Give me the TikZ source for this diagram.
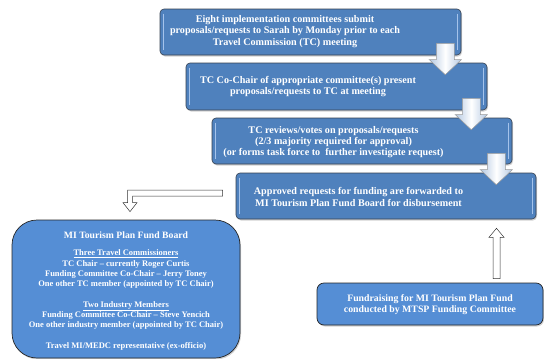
\documentclass[tikz,border=0pt]{standalone}
\usepackage{fontspec}
\setmainfont{Liberation Serif}
\usetikzlibrary{shadows,calc}
\definecolor{stepblue}{RGB}{79,129,189}
\definecolor{lowblue}{RGB}{85,142,213}
\definecolor{edgegray}{RGB}{55,65,80}
\definecolor{arrowblue}{RGB}{180,200,226}
\definecolor{hilite}{RGB}{165,195,235}
\newcommand\downblock[2]{\shade[arrowshade] let \p1=(#1), \p2=(#2) in
  (\x1-9pt,\y1) -- (\x1+9pt,\y1) -- (\x1+9pt,\y2+15pt) -- (\x1+16pt,\y2+15pt)
  -- (\x1,\y2) -- (\x1-16pt,\y2+15pt) -- (\x1-9pt,\y2+15pt) -- cycle;}
\newcommand\edgelights[1]{%
  \draw[hilite,line width=1.3pt] ($(#1.north west)+(3.5,5)$) -- ($(#1.south west)+(3.5,-5)$);
  \draw[hilite,line width=1.3pt] ($(#1.north east)+(-3.5,5)$) -- ($(#1.south east)+(-3.5,-5)$);}
\begin{document}
\begin{tikzpicture}[x=1pt,y=-1pt,
  stepbox/.style={draw=edgegray,line width=0.6pt,fill=stepblue,rounded corners=4pt,
    drop shadow={shadow xshift=1pt,shadow yshift=-1.5pt,opacity=0.35},inner sep=0pt},
  lowbox/.style={draw=black!85,line width=0.7pt,fill=lowblue,
    drop shadow={shadow xshift=1pt,shadow yshift=-1.5pt,opacity=0.35},inner sep=0pt},
  steptext/.style={text=white,align=center,font=\bfseries\fontsize{10.15}{11.4}\selectfont,inner sep=0pt},
  boardtext/.style={text=white,align=center,font=\bfseries\fontsize{8.5}{10.3}\selectfont,inner sep=0pt},
  arrowshade/.style={left color=arrowblue,right color=arrowblue,middle color=white,draw=gray!80,line width=0.5pt},
  hollow/.style={draw=black!80,fill=white,line width=0.5pt}]
\useasboundingbox (0,0) rectangle (544,359);
% step boxes
\node[stepbox,minimum width=301pt,minimum height=46pt] (b1) at (310.5,32) {};
\node[stepbox,minimum width=301pt,minimum height=47pt] (b2) at (336.5,86.5) {};
\node[stepbox,minimum width=300pt,minimum height=46pt] (b3) at (362,141) {};
\node[stepbox,minimum width=300pt,minimum height=46pt] (b4) at (386,196) {};
\edgelights{b1}\edgelights{b2}\edgelights{b3}\edgelights{b4}
\node[steptext] (t1) at (285,31.5) {Eight implementation committees submit\\proposals/requests to Sarah by Monday prior to each\\Travel Commission (TC) meeting};
\node[steptext] (t2) at (308,86.5) {TC Co-Chair of appropriate committee(s) present\\proposals/requests to TC at meeting};
\node[steptext] (t3) at (333.5,142) {TC reviews/votes on proposals/requests\\(2/3 majority required for approval)\\(or forms task force to \ further investigate request)};
\node[steptext] (t4) at (358.5,197) {Approved requests for funding are forwarded to\\MI Tourism Plan Fund Board for disbursement};
% lower boxes
\node[lowbox,rounded corners=25pt,minimum width=228pt,minimum height=138pt] (board) at (126,289) {};
\node[lowbox,rounded corners=7pt,minimum width=226pt,minimum height=42pt] (fund) at (430,304) {};
\node[boardtext] (tb) at (126,291) {{\fontsize{9.7}{10.3}\selectfont MI Tourism Plan Fund Board}\\[7pt]
\underline{Three Travel Commissioners}\\
TC Chair -- currently Roger Curtis\\
Funding Committee Co-Chair -- Jerry Toney\\
One other TC member (appointed by TC Chair)\\[10.3pt]
\underline{Two Industry Members}\\
Funding Committee Co-Chair -- Steve Yencich\\
One other industry member (appointed by TC Chair)\\[10.3pt]
Travel MI/MEDC representative (ex-officio)};
\node[steptext,font=\bfseries\fontsize{9.8}{11}\selectfont] (tf) at (430,304.5) {Fundraising for MI Tourism Plan Fund\\conducted by MTSP Funding Committee};
% block arrows between steps
\coordinate (a1top) at ($(b1.south east)+(-16,-12)$);
\coordinate (a1tip) at ($(b2.north east)+(-42,12)$);
\coordinate (a2top) at ($(b2.south east)+(-16,-12)$);
\coordinate (a2tip) at ($(b3.north east)+(-41,12)$);
\coordinate (a3top) at ($(b3.south east)+(-16,-11)$);
\coordinate (a3tip) at ($(b4.north east)+(-40,12)$);
\downblock{a1top}{a1tip}
\downblock{a2top}{a2tip}
\downblock{a3top}{a3tip}
% L-shaped hollow arrow to board
\coordinate (lstart) at ($(b4.west)+(-13,-3)$);
\coordinate (ltip) at ($(board.north)+(4,-8)$);
\draw[hollow] let \p1=(lstart), \p2=(ltip) in
  (\x1,\y1+3pt) -- (\x2-2.5pt,\y1+3pt) -- (\x2-2.5pt,\y2+9pt) -- (\x2-7pt,\y2+9pt)
  -- (\x2,\y2) -- (\x2+7pt,\y2+9pt) -- (\x2+2.5pt,\y2+9pt) -- (\x2+2.5pt,\y1-3pt)
  -- (\x1,\y1-3pt) -- cycle;
% up hollow arrow from fundraising
\coordinate (ubase) at ($(fund.north)+(66.5,-4)$);
\coordinate (utip) at ($(b4.south)+(110.5,9)$);
\draw[hollow] let \p1=(ubase), \p2=(utip) in
  (\x1-3.5pt,\y1) -- (\x1-3.5pt,\y2-9pt) -- (\x1-7.5pt,\y2-9pt) -- (\x2,\y2)
  -- (\x1+7.5pt,\y2-9pt) -- (\x1+3.5pt,\y2-9pt) -- (\x1+3.5pt,\y1) -- cycle;
\end{tikzpicture}
\end{document}
